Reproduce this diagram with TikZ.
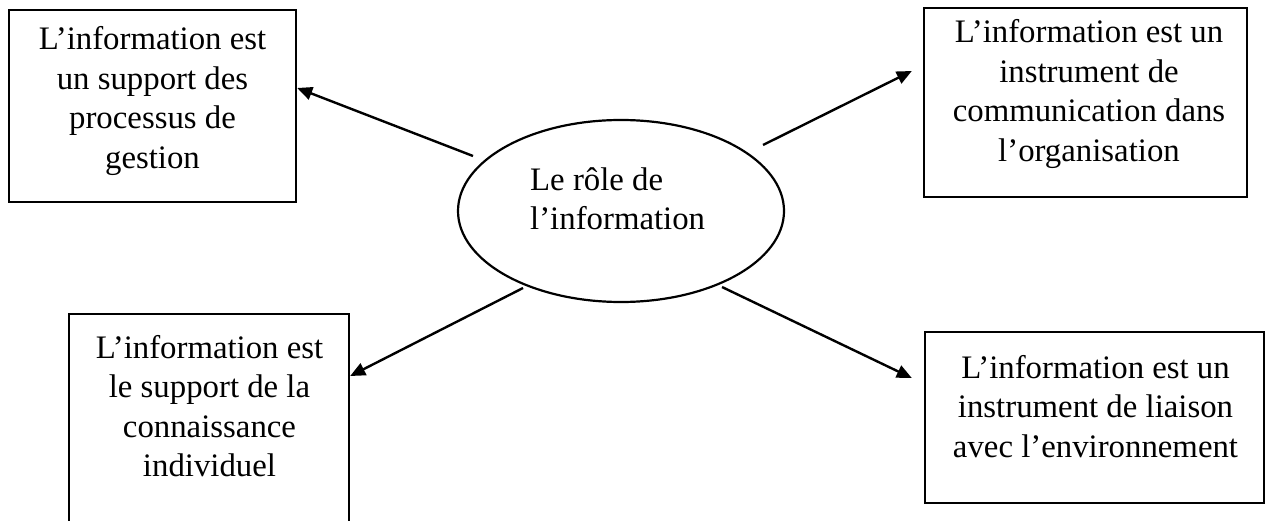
\documentclass[tikz,border=0pt]{standalone}
\usepackage{fontspec}
\setmainfont{Liberation Serif}
\usetikzlibrary{arrows.meta,shapes.geometric}

\tikzset{
  infobox/.style={draw, line width=2.4pt, rectangle, inner sep=0pt},
  rolebubble/.style={draw, line width=2.2pt, ellipse, inner sep=0pt},
  boxtext/.style={anchor=base, inner sep=0pt, font=\fontsize{32.8}{39.5}\selectfont},
  arr/.style={line width=2.4pt, -{Triangle[length=15pt,width=13pt]}}
}

\begin{document}
\begin{tikzpicture}[x=1pt,y=-1pt]
  \useasboundingbox (0,0) rectangle (1265,521);
  \clip (0,0) rectangle (1265,521);

  % frames of the four statements
  \node[infobox, minimum width=287pt, minimum height=192pt] (tl) at (152.5,106) {};
  \node[infobox, minimum width=323pt, minimum height=189pt] (tr) at (1085.5,102.5) {};
  \node[infobox, minimum width=280pt, minimum height=226pt] (bl) at (209,427) {};
  \node[infobox, minimum width=339pt, minimum height=171pt] (br) at (1094.5,417.5) {};

  % central bubble
  \node[rolebubble, minimum width=326pt, minimum height=182pt] (role) at (621,211) {};

  % texts
  \node[boxtext] (tltext) at (152.5,50)
    {\begin{tabular}[t]{@{}c@{}}L’information est\\un support des\\processus de\\gestion\end{tabular}};
  \node[boxtext] (trtext) at (1089,43)
    {\begin{tabular}[t]{@{}c@{}}L’information est un\\instrument de\\communication dans\\l’organisation\end{tabular}};
  \node[boxtext] (bltext) at (209.5,358)
    {\begin{tabular}[t]{@{}c@{}}L’information est\\le support de la\\connaissance\\individuel\end{tabular}};
  \node[boxtext] (brtext) at (1095.5,378)
    {\begin{tabular}[t]{@{}c@{}}L’information est un\\instrument de liaison\\avec l’environnement\end{tabular}};
  \node[boxtext, anchor=base west] (roletext) at (530,190.5)
    {\begin{tabular}[t]{@{}l@{}}Le rôle de\\l’information\end{tabular}};

  % arrows from the bubble to each statement
  \draw[arr] ([shift={(-148,-55)}]role.center) -- ([shift={(0,-18)}]tl.east);
  \draw[arr] ([shift={(142,-66)}]role.center) -- ([shift={(-11,-31.5)}]tr.west);
  \draw[arr] ([shift={(-98,77)}]role.center) -- ([shift={(0,-51)}]bl.east);
  \draw[arr] ([shift={(101,76)}]role.center) -- ([shift={(-12,-39.5)}]br.west);
\end{tikzpicture}
\end{document}
